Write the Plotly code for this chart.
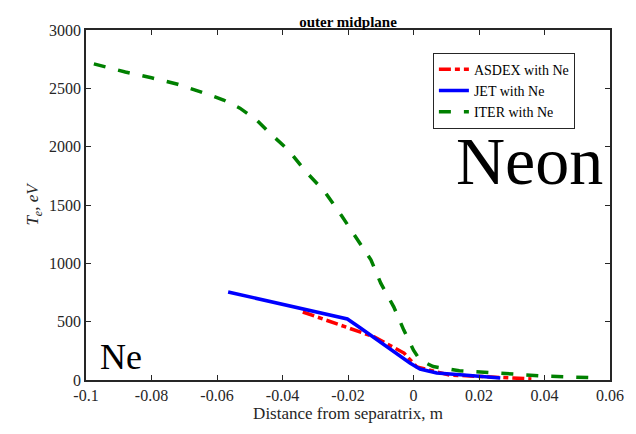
import plotly.graph_objects as go

# ITER with Ne
iter_x = [-0.0976, -0.088, -0.080, -0.072, -0.065, -0.058, -0.053, -0.048, -0.044, -0.038, -0.033,
          -0.027, -0.022, -0.017, -0.013, -0.010, -0.006, -0.003, 0.0, 0.002, 0.006,
          0.014, 0.023, 0.040, 0.057]
iter_y = [2710, 2640, 2590, 2535, 2470, 2400, 2330, 2230, 2120, 1965, 1790,
          1610, 1410, 1200, 1030, 830, 625, 430, 255, 170, 115,
          80, 63, 34, 17]

# JET with Ne
jet_x = [-0.0566, -0.0414, -0.0202, -0.0162, -0.008, -0.0011, 0.002, 0.0071, 0.0153, 0.0265]
jet_y = [754, 660, 523, 446, 283, 146, 94, 60, 43, 17]

# ASDEX with Ne
asdex_x = [-0.0338, -0.0202, -0.012, -0.0029, 0.001, 0.011, 0.023, 0.036]
asdex_y = [583, 446, 369, 231, 111, 43, 26, 9]

FONT = "Liberation Serif"

fig = go.Figure()
fig.add_trace(go.Scatter(x=asdex_x, y=asdex_y, mode="lines", name="ASDEX with Ne",
                         line=dict(color="#ff0000", width=3.5, dash="12px,4px,5px,4px")))
fig.add_trace(go.Scatter(x=jet_x, y=jet_y, mode="lines", name="JET with Ne",
                         line=dict(color="#0000ff", width=3.5)))
fig.add_trace(go.Scatter(x=iter_x, y=iter_y, mode="lines", name="ITER with Ne",
                         line=dict(color="#008000", width=3.5, dash="12px,13px")))

axis_common = dict(showline=True, linecolor="#262626", linewidth=1.5, mirror="ticks",
                   ticks="inside", ticklen=5, tickcolor="#262626", showgrid=False,
                   zeroline=False, tickfont=dict(family=FONT, size=16, color="#262626"))

fig.update_layout(
    width=636, height=434,
    margin=dict(l=86, r=19, t=30, b=54),
    paper_bgcolor="white", plot_bgcolor="white",
    font=dict(family=FONT, color="#262626"),
    title=dict(text="<b>outer midplane</b>", x=0.5, xanchor="center", xref="paper",
               y=1, yref="paper", yanchor="bottom", pad=dict(b=3),
               font=dict(family=FONT, size=15, color="black")),
    xaxis=dict(range=[-0.1, 0.06], tickvals=[-0.1, -0.08, -0.06, -0.04, -0.02, 0, 0.02, 0.04, 0.06],
               ticktext=["-0.1", "-0.08", "-0.06", "-0.04", "-0.02", "0", "0.02", "0.04", "0.06"],
               title=dict(text="Distance from separatrix, m", font=dict(family=FONT, size=17, color="#262626"),
                          standoff=3),
               **axis_common),
    yaxis=dict(range=[0, 3000], tickvals=[0, 500, 1000, 1500, 2000, 2500, 3000],
               title=dict(text="<i>T<sub>e</sub>, eV</i>", font=dict(family=FONT, size=17, color="#262626"),
                          standoff=6),
               **axis_common),
    legend=dict(x=0.662, y=0.935, xanchor="left", yanchor="top",
                bgcolor="white", bordercolor="#262626", borderwidth=1,
                font=dict(family=FONT, size=14, color="black"),
                tracegroupgap=0, itemwidth=30),
    showlegend=True,
)

fig.add_annotation(text="Neon", xref="paper", yref="paper", x=0.99, y=0.625,
                   xanchor="right", yanchor="middle", showarrow=False,
                   font=dict(family=FONT, size=68, color="black"))
fig.add_annotation(text="Ne", xref="paper", yref="paper", x=0.022, y=0.065,
                   xanchor="left", yanchor="middle", showarrow=False,
                   font=dict(family=FONT, size=36, color="black"))

fig.write_html("out.html")
